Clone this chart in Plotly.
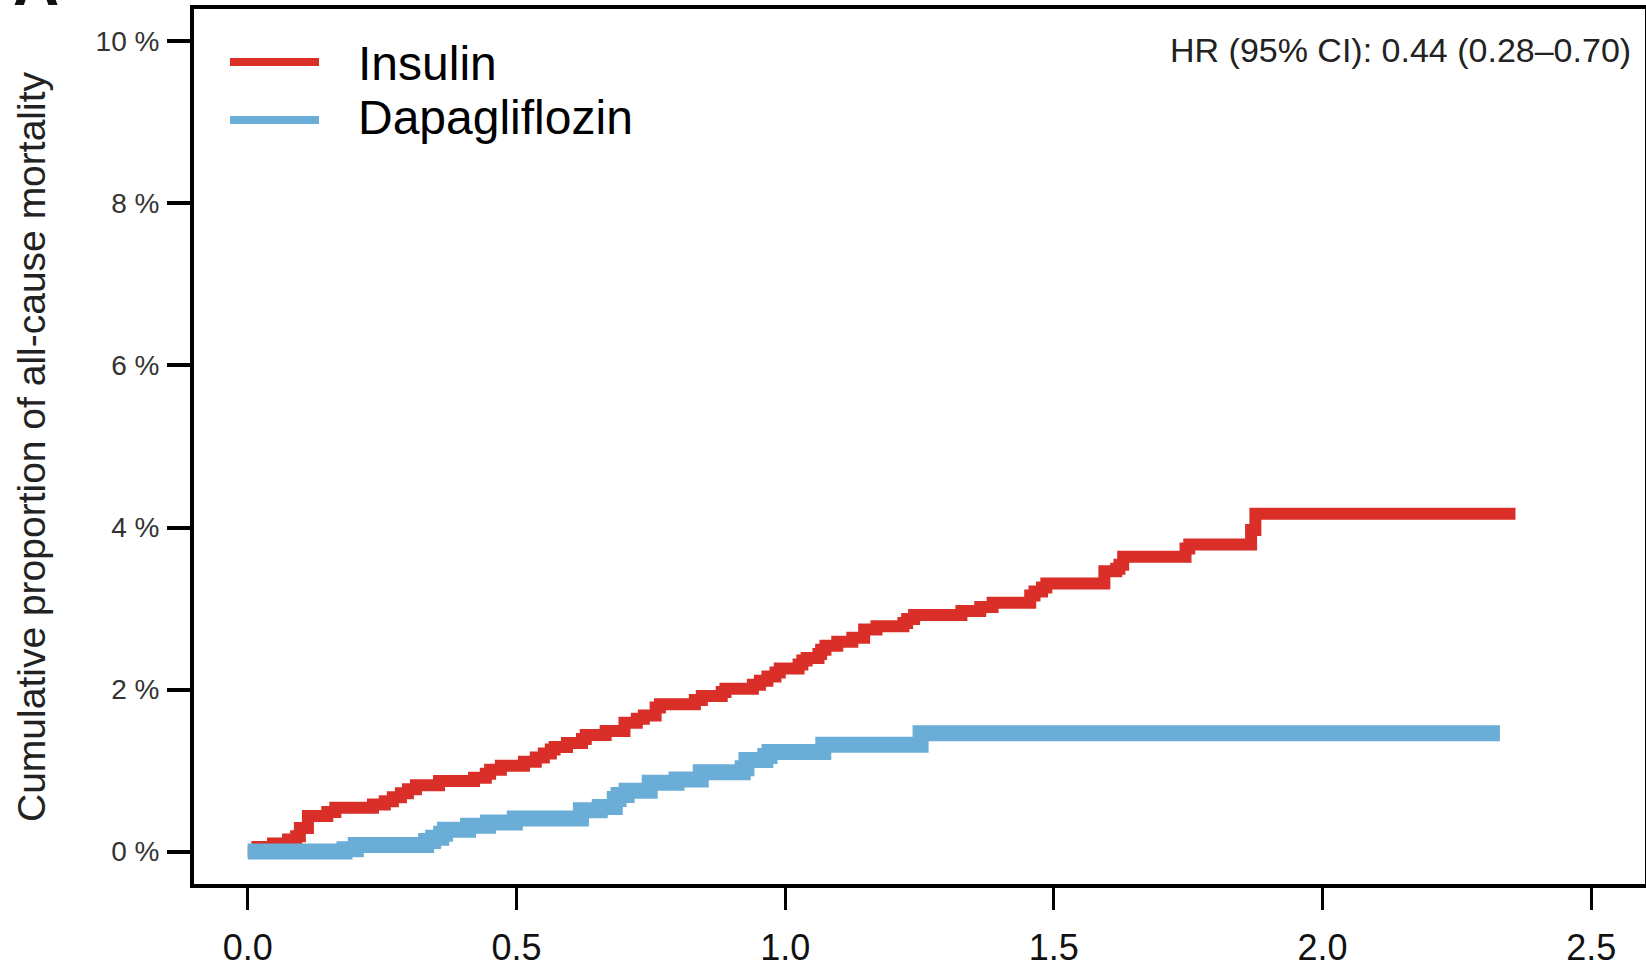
import plotly.graph_objects as go

# ---- data (years, cumulative %) ----
insulin_t = [0, 0.018, 0.047, 0.075, 0.090, 0.097, 0.112, 0.148, 0.163, 0.233, 0.255, 0.270,
             0.285, 0.298, 0.313, 0.356, 0.421, 0.443, 0.451, 0.471, 0.514, 0.536, 0.551, 0.564,
             0.571, 0.594, 0.622, 0.629, 0.666, 0.701, 0.724, 0.737, 0.759, 0.767, 0.832, 0.845,
             0.882, 0.889, 0.940, 0.953, 0.967, 0.982, 0.990, 1.025, 1.032, 1.040, 1.062, 1.067,
             1.075, 1.097, 1.125, 1.147, 1.170, 1.220, 1.227, 1.240, 1.328, 1.363, 1.386, 1.456,
             1.464, 1.478, 1.486, 1.594, 1.616, 1.622, 1.629, 1.745, 1.752, 1.867, 1.875, 2.359]
insulin_pct = [0, 0.056, 0.10, 0.15, 0.19, 0.29, 0.44, 0.49, 0.54, 0.58, 0.62, 0.67,
               0.72, 0.77, 0.82, 0.87, 0.91, 0.96, 1.01, 1.06, 1.11, 1.16, 1.21, 1.26,
               1.29, 1.34, 1.39, 1.44, 1.49, 1.59, 1.64, 1.68, 1.78, 1.82, 1.87, 1.92,
               1.97, 2.01, 2.06, 2.11, 2.16, 2.21, 2.26, 2.31, 2.36, 2.39, 2.44, 2.49,
               2.54, 2.59, 2.64, 2.74, 2.78, 2.82, 2.87, 2.92, 2.97, 3.02, 3.07, 3.16,
               3.21, 3.26, 3.31, 3.46, 3.49, 3.54, 3.64, 3.74, 3.79, 3.97, 4.17, 4.17]

dapa_t = [0, 0.180, 0.201, 0.332, 0.345, 0.360, 0.367, 0.410, 0.447, 0.497, 0.620, 0.655,
          0.683, 0.690, 0.705, 0.748, 0.798, 0.843, 0.921, 0.928, 0.963, 0.971, 1.071, 1.252, 2.33]
dapa_pct = [0, 0.03, 0.08, 0.13, 0.17, 0.22, 0.27, 0.32, 0.36, 0.41, 0.51, 0.55,
            0.65, 0.70, 0.75, 0.85, 0.89, 0.98, 1.03, 1.13, 1.18, 1.23, 1.32, 1.46, 1.46]

series_names = ["Insulin", "Dapagliflozin"]
series_colors = ["#D92F28", "#6AADD6"]

x_tickvals = [0, 0.5, 1.0, 1.5, 2.0, 2.5]
x_ticktext = ["0.0", "0.5", "1.0", "1.5", "2.0", "2.5"]
y_tickvals = [0, 2, 4, 6, 8, 10]
y_ticktext = ["0 %", "2 %", "4 %", "6 %", "8 %", "10 %"]

y_title = "Cumulative proportion of all-cause mortality"
hr_text = "HR (95% CI): 0.44 (0.28\u20130.70)"
panel_label = "A"

FONT = "Liberation Sans, Arial, Helvetica, sans-serif"

fig = go.Figure()
fig.add_trace(go.Scatter(x=insulin_t, y=insulin_pct, mode="lines", line_shape="hv",
                         line=dict(color=series_colors[0], width=12), name=series_names[0],
                         showlegend=False))
fig.add_trace(go.Scatter(x=dapa_t, y=dapa_pct, mode="lines", line_shape="hv",
                         line=dict(color=series_colors[1], width=16), name=series_names[1],
                         showlegend=False))

W, H = 1646, 973
ML, MR, MT, MB = 194, 1, 9, 89
PW, PH = W - ML - MR, H - MT - MB


def px(x):
    return (x - ML) / PW


def py(y):
    return (H - MB - y) / PH


fig.update_layout(
    width=W, height=H,
    margin=dict(l=ML, r=MR, t=MT, b=MB, autoexpand=False),
    paper_bgcolor="white", plot_bgcolor="white",
    font=dict(family=FONT, color="black"),
    xaxis=dict(range=[-0.1, 2.6], tickvals=x_tickvals, ticktext=x_ticktext,
               ticks="outside", ticklen=22, tickwidth=3, tickcolor="black",
               showline=True, linewidth=4, linecolor="black", mirror=True,
               showgrid=False, zeroline=False, tickfont=dict(size=36, color="#111"),
               ticklabelstandoff=7, automargin=False),
    yaxis=dict(range=[-0.4, 10.4], tickvals=y_tickvals, ticktext=y_ticktext,
               ticks="outside", ticklen=23, tickwidth=4, tickcolor="black",
               showline=True, linewidth=4, linecolor="black", mirror=True,
               showgrid=False, zeroline=False, tickfont=dict(size=28, color="#333"),
               ticklabelstandoff=2, automargin=False),
)

# legend drawn manually
legend_rows = [(62, 64), (120, 118)]
for (ly, ty), name, col in zip(legend_rows, series_names, series_colors):
    fig.add_shape(type="line", xref="paper", yref="paper", x0=px(230), x1=px(319),
                  y0=py(ly), y1=py(ly), line=dict(color=col, width=8))
    fig.add_annotation(text=name, xref="paper", yref="paper", x=px(356), y=py(ty),
                       xanchor="left", yanchor="middle", showarrow=False,
                       font=dict(size=48, color="black"))

fig.add_annotation(text=hr_text, xref="paper", yref="paper", x=px(1633), y=py(50),
                   xanchor="right", yanchor="middle", showarrow=False,
                   font=dict(size=34, color="#222"))

fig.add_annotation(text=y_title, xref="paper", yref="paper", x=px(31), y=py(447),
                   xanchor="center", yanchor="middle", textangle=-90, showarrow=False,
                   font=dict(size=39, color="#222"))

fig.add_annotation(text="<b>" + panel_label + "</b>", xref="paper", yref="paper", x=px(36), y=py(21),
                   xanchor="center", yanchor="bottom", showarrow=False,
                   font=dict(size=64, color="#111"))

fig.write_html("out.html", config={"displayModeBar": False},
               post_script="document.body.style.margin='0';document.body.style.overflow='hidden';")
